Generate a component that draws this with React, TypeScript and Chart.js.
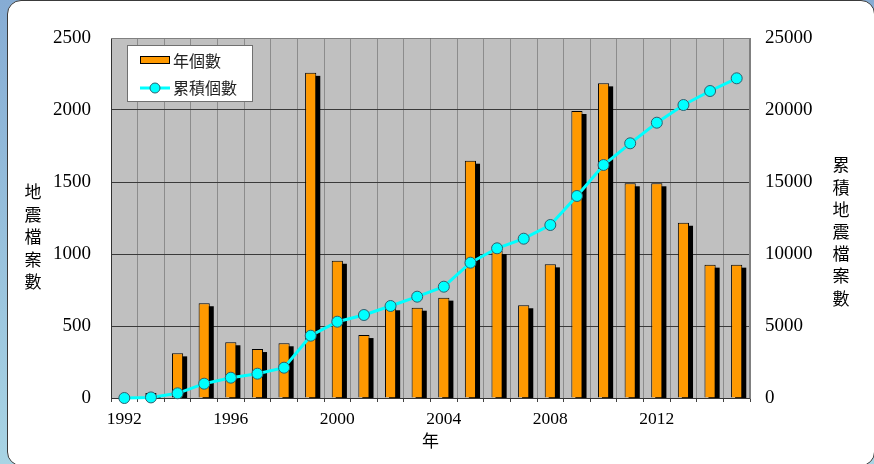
import React, { useEffect, useRef } from 'react';
import { Chart, registerables } from 'chart.js';

Chart.register(...registerables);

const years = [
  '1992', '1993', '1994', '1995', '1996', '1997', '1998', '1999', '2000', '2001', '2002', '2003',
  '2004', '2005', '2006', '2007', '2008', '2009', '2010', '2011', '2012', '2013', '2014', '2015',
];
const annualCounts = [
  5, 35, 310, 658, 387, 340, 380, 2258, 953, 437, 630, 627,
  697, 1648, 1020, 644, 928, 1993, 2185, 1491, 1491, 1217, 926, 926,
];
const cumulativeCounts = [
  0, 40, 326, 993, 1410, 1688, 2104, 4326, 5299, 5764, 6389, 7035,
  7729, 9396, 10396, 11063, 12014, 14028, 16181, 17687, 19118, 20347, 21319, 22201,
];
const labeledYears = ['1992', '1996', '2000', '2004', '2008', '2012'];
const seriesNames = ['年個數', '累積個數'];
const leftTitle = ['地', '震', '檔', '案', '數'];
const rightTitle = ['累', '積', '地', '震', '檔', '案', '數'];
const xTitle = '年';

const CJK = '"Noto Sans CJK TC", "Noto Sans CJK SC", sans-serif';
const SERIF = '"Liberation Serif", "Times New Roman", serif';

const bgPlugin = {
  id: 'plotBg',
  beforeDraw(chart: any) {
    const { ctx, chartArea: a } = chart;
    ctx.save();
    ctx.fillStyle = '#c0c0c0';
    ctx.fillRect(a.left, a.top, a.right - a.left, a.bottom - a.top);
    ctx.restore();
  },
};

const shadowPlugin = {
  id: 'barShadow',
  beforeDatasetDraw(chart: any, args: any) {
    if (args.meta.type !== 'bar') return;
    const { ctx, chartArea: a } = chart;
    ctx.save();
    ctx.beginPath();
    ctx.rect(a.left, a.top, a.right - a.left, a.bottom - a.top);
    ctx.clip();
    ctx.fillStyle = '#000000';
    args.meta.data.forEach((el: any) => {
      const p = el.getProps(['x', 'y', 'base', 'width'], true);
      const h = p.base - p.y;
      if (h <= 1) return;
      ctx.fillRect(p.x - p.width / 2 + 4, p.y + 3, p.width, h);
    });
    ctx.restore();
  },
};

const decorPlugin = {
  id: 'decor',
  afterDraw(chart: any) {
    const { ctx, chartArea: a } = chart;
    ctx.save();
    // plot frame
    ctx.strokeStyle = '#808080';
    ctx.lineWidth = 1;
    ctx.beginPath();
    ctx.moveTo(a.left, a.top + 0.5);
    ctx.lineTo(a.right, a.top + 0.5);
    ctx.moveTo(a.right - 0.5, a.top);
    ctx.lineTo(a.right - 0.5, a.bottom);
    ctx.stroke();

    // legend
    const lx = 127, ly = 45, lw = 126, lh = 57;
    ctx.fillStyle = '#ffffff';
    ctx.fillRect(lx, ly, lw, lh);
    ctx.strokeStyle = '#707070';
    ctx.strokeRect(lx + 0.5, ly + 0.5, lw - 1, lh - 1);
    // item 1
    ctx.fillStyle = '#ff9900';
    ctx.fillRect(140, 56, 30, 7);
    ctx.strokeStyle = '#000';
    ctx.lineWidth = 1;
    ctx.strokeRect(140.5, 56.5, 29, 7);
    // item 2
    ctx.strokeStyle = '#00ffff';
    ctx.lineWidth = 3;
    ctx.beginPath();
    ctx.moveTo(140, 88);
    ctx.lineTo(170, 88);
    ctx.stroke();
    ctx.beginPath();
    ctx.arc(155, 88, 5, 0, Math.PI * 2);
    ctx.fillStyle = '#00ffff';
    ctx.fill();
    ctx.lineWidth = 1;
    ctx.strokeStyle = '#2f5f6f';
    ctx.stroke();
    ctx.fillStyle = '#222';
    ctx.font = `16px ${CJK}`;
    ctx.textAlign = 'left';
    ctx.textBaseline = 'middle';
    ctx.fillText(seriesNames[0], 173, 61);
    ctx.fillText(seriesNames[1], 173, 88);

    // axis titles
    ctx.fillStyle = '#000';
    ctx.font = `17px ${CJK}`;
    ctx.textAlign = 'center';
    leftTitle.forEach((c, i) => ctx.fillText(c, 33, 192 + i * 22.5));
    rightTitle.forEach((c, i) => ctx.fillText(c, 841, 165 + i * 22.2));
    ctx.fillText(xTitle, (a.left + a.right) / 2, 441);
    ctx.restore();
  },
};

export default function App() {
  const ref = useRef<HTMLCanvasElement | null>(null);

  useEffect(() => {
    if (!ref.current) return;
    const chart = new Chart(ref.current, {
      type: 'bar',
      data: {
        labels: years,
        datasets: [
          {
            type: 'bar',
            label: seriesNames[0],
            data: annualCounts,
            yAxisID: 'y',
            backgroundColor: '#ff9900',
            borderColor: '#000000',
            borderWidth: 1,
            barPercentage: 0.42,
            categoryPercentage: 1,
            order: 2,
          },
          {
            type: 'line',
            label: seriesNames[1],
            data: cumulativeCounts,
            yAxisID: 'y1',
            borderColor: '#00ffff',
            borderWidth: 3,
            pointRadius: 5.5,
            pointBackgroundColor: '#00ffff',
            pointBorderColor: '#2f5f6f',
            pointBorderWidth: 1,
            tension: 0,
            clip: false,
            order: 1,
          } as any,
        ],
      },
      options: {
        animation: false,
        responsive: false,
        layout: { padding: { top: 38, left: 0, right: 0, bottom: 0 } },
        plugins: { legend: { display: false }, tooltip: { enabled: false } },
        scales: {
          x: {
            offset: true,
            grid: { offset: true, color: '#8c8c8c', drawTicks: true, tickLength: 4, tickColor: '#404040' },
            border: { color: '#333333', width: 1 },
            ticks: {
              autoSkip: false,
              maxRotation: 0,
              padding: 7,
              color: '#000',
              font: { family: SERIF, size: 17.5 },
              callback: (_v: any, i: number) => (labeledYears.includes(years[i]) ? years[i] : ''),
            },
            afterFit: (s: any) => { s.height = 66; },
          },
          y: {
            position: 'left',
            min: 0,
            max: 2500,
            ticks: {
              stepSize: 500, padding: 20, color: '#000', font: { family: SERIF, size: 19 },
              callback: (v: any) => String(v),
            },
            grid: { color: '#3a3a3a', drawTicks: false },
            border: { color: '#333333', width: 1 },
            afterFit: (s: any) => { s.width = 111; },
          },
          y1: {
            position: 'right',
            min: 0,
            max: 25000,
            ticks: {
              stepSize: 5000, padding: 15, color: '#000', font: { family: SERIF, size: 19 },
              callback: (v: any) => String(v),
            },
            grid: { drawOnChartArea: false, drawTicks: false },
            border: { color: '#808080', width: 1 },
            afterFit: (s: any) => { s.width = 124; },
          },
        },
      },
      plugins: [bgPlugin, shadowPlugin, decorPlugin],
    });
    return () => chart.destroy();
  }, []);

  return (
    <div style={{ position: 'fixed', left: 0, top: 0, width: 874, height: 464, overflow: 'hidden', background: 'linear-gradient(#86acd4, #a8d4e4)' }}>
      <div
        style={{
          position: 'absolute', left: 7, top: 0, width: 868, height: 466,
          background: '#ffffff', border: '1.5px solid #3a3a3a', borderRadius: 14, boxSizing: 'border-box',
        }}
      />
      <div style={{ position: 'absolute', left: 0, top: 0, width: 874, height: 464 }}>
        <canvas ref={ref} width={874} height={464} />
      </div>
    </div>
  );
}
